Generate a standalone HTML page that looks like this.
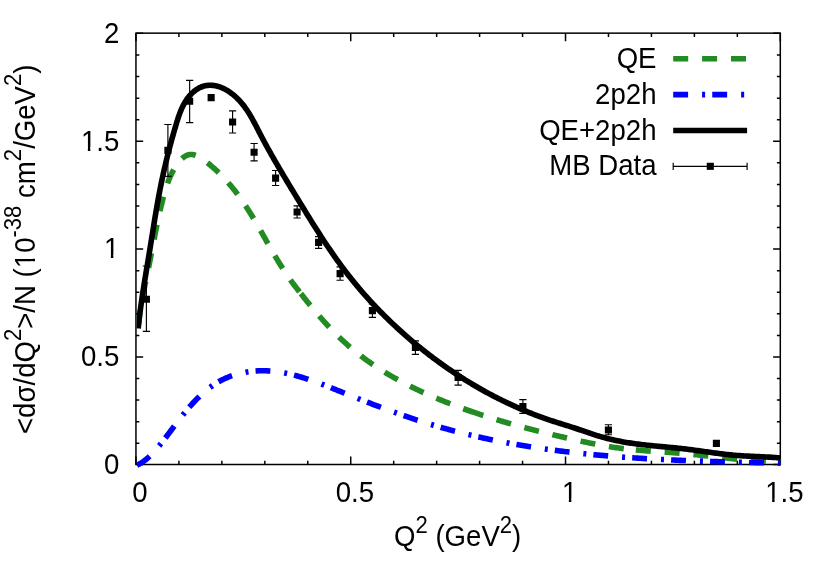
<!DOCTYPE html>
<html><head><meta charset="utf-8"><title>dsigma/dQ2</title>
<style>html,body{margin:0;padding:0;background:#fff;}svg{display:block;will-change:transform;}</style>
</head><body>
<svg width="830" height="581" viewBox="0 0 830 581" font-family="'Liberation Sans', sans-serif" font-size="27.6px" fill="#000">
<rect width="830" height="581" fill="#fff"/>
<path d="M135.95,464.50v-8.0M135.95,33.15v8.0M178.91,464.50v-3.8M178.91,33.15v3.8M221.86,464.50v-3.8M221.86,33.15v3.8M264.82,464.50v-3.8M264.82,33.15v3.8M307.78,464.50v-3.8M307.78,33.15v3.8M350.73,464.50v-8.0M350.73,33.15v8.0M393.69,464.50v-3.8M393.69,33.15v3.8M436.65,464.50v-3.8M436.65,33.15v3.8M479.60,464.50v-3.8M479.60,33.15v3.8M522.56,464.50v-3.8M522.56,33.15v3.8M565.52,464.50v-8.0M565.52,33.15v8.0M608.47,464.50v-3.8M608.47,33.15v3.8M651.43,464.50v-3.8M651.43,33.15v3.8M694.39,464.50v-3.8M694.39,33.15v3.8M737.34,464.50v-3.8M737.34,33.15v3.8M780.30,464.50v-8.0M780.30,33.15v8.0M135.95,464.50h7.2M780.30,464.50h-7.2M135.95,443.23h3.4M780.30,443.23h-3.4M135.95,421.67h3.4M780.30,421.67h-3.4M135.95,400.10h3.4M780.30,400.10h-3.4M135.95,378.53h3.4M780.30,378.53h-3.4M135.95,356.96h7.2M780.30,356.96h-7.2M135.95,335.40h3.4M780.30,335.40h-3.4M135.95,313.83h3.4M780.30,313.83h-3.4M135.95,292.26h3.4M780.30,292.26h-3.4M135.95,270.69h3.4M780.30,270.69h-3.4M135.95,249.12h7.2M780.30,249.12h-7.2M135.95,227.56h3.4M780.30,227.56h-3.4M135.95,205.99h3.4M780.30,205.99h-3.4M135.95,184.42h3.4M780.30,184.42h-3.4M135.95,162.86h3.4M780.30,162.86h-3.4M135.95,141.29h7.2M780.30,141.29h-7.2M135.95,119.72h3.4M780.30,119.72h-3.4M135.95,98.15h3.4M780.30,98.15h-3.4M135.95,76.58h3.4M780.30,76.58h-3.4M135.95,55.02h3.4M780.30,55.02h-3.4M135.95,33.15h7.2M780.30,33.15h-7.2" stroke="#000" stroke-width="1.5" fill="none"/>
<rect x="135.95" y="33.15" width="644.35" height="431.35" fill="none" stroke="#000" stroke-width="1.5"/>
<g transform="translate(119.30,474.15) scale(1,1.055)"><text text-anchor="end">0</text></g>
<g transform="translate(119.30,366.31) scale(1,1.055)"><text text-anchor="end">0.5</text></g>
<g transform="translate(119.30,258.47) scale(1,1.055)"><text text-anchor="end">1</text><rect x="-14.06" y="-3.5" width="5.62" height="4.3" fill="#fff"/><rect x="-5.96" y="-3.5" width="5.40" height="4.3" fill="#fff"/></g>
<g transform="translate(119.30,150.64) scale(1,1.055)"><text text-anchor="end">1.5</text><rect x="-37.08" y="-3.5" width="5.62" height="4.3" fill="#fff"/><rect x="-28.98" y="-3.5" width="5.40" height="4.3" fill="#fff"/></g>
<g transform="translate(119.30,42.80) scale(1,1.055)"><text text-anchor="end">2</text></g>
<g transform="translate(140.05,502.40) scale(1,1.055)"><text text-anchor="middle">0</text></g>
<g transform="translate(354.83,502.40) scale(1,1.055)"><text text-anchor="middle">0.5</text></g>
<g transform="translate(569.62,502.40) scale(1,1.055)"><text text-anchor="middle">1</text><rect x="-6.38" y="-3.5" width="5.62" height="4.3" fill="#fff"/><rect x="1.72" y="-3.5" width="5.40" height="4.3" fill="#fff"/></g>
<g transform="translate(784.40,502.40) scale(1,1.055)"><text text-anchor="middle">1.5</text><rect x="-17.89" y="-3.5" width="5.62" height="4.3" fill="#fff"/><rect x="-9.79" y="-3.5" width="5.40" height="4.3" fill="#fff"/></g>
<g transform="translate(394.00,545.50) scale(1,1.055)"><text text-anchor="start">Q<tspan dy="-12.23" font-size="22.08px">2</tspan><tspan dy="12.23"> (GeV</tspan><tspan dy="-12.23" font-size="22.08px">2</tspan><tspan dy="12.23">)</tspan></text></g>
<g transform="translate(34.50,434.00) rotate(-90) scale(1,1.055)"><text text-anchor="start">&lt;dσ/dQ<tspan dy="-13.27" font-size="22.08px">2</tspan><tspan dy="13.27">&gt;/N (10</tspan><tspan dy="-13.27" font-size="22.08px">-38</tspan><tspan dy="13.27"> cm</tspan><tspan dy="-13.27" font-size="22.08px">2</tspan><tspan dy="13.27">/GeV</tspan><tspan dy="-13.27" font-size="22.08px">2</tspan><tspan dy="13.27">)</tspan></text><rect x="167.13" y="-3.5" width="5.62" height="4.3" fill="#fff"/><rect x="175.23" y="-3.5" width="5.40" height="4.3" fill="#fff"/></g>
<clipPath id="c"><rect x="136.70" y="33.15" width="644.35" height="436.35"/></clipPath>
<g clip-path="url(#c)" fill="none" stroke-linejoin="round">
<path d="M138.56,324.79 L138.61,324.12 L138.75,322.63 L138.89,321.14 L139.05,319.65 L139.21,318.17 L139.39,316.68 L139.58,315.20 L139.78,313.71 L139.99,312.22 L140.20,310.74 L140.33,309.90 M142.71,296.21 L142.77,295.91 L143.06,294.43 L143.35,292.95 L143.65,291.47 L143.94,289.99 L144.25,288.51 L144.55,287.03 L144.86,285.55 L145.16,284.07 L145.47,282.60 L145.70,281.51 M148.53,267.90 L148.54,267.83 L148.84,266.36 L149.13,264.88 L149.42,263.41 L149.71,261.94 L150.00,260.46 L150.29,258.99 L150.58,257.52 L150.86,256.04 L151.14,254.57 L151.41,253.18 M154.03,239.53 L154.25,238.40 L154.53,236.93 L154.82,235.47 L155.11,234.00 L155.39,232.53 L155.69,231.06 L155.98,229.60 L156.28,228.13 L156.57,226.66 L156.87,225.20 L156.95,224.81 M159.90,211.23 L160.06,210.55 L160.40,209.09 L160.74,207.63 L161.09,206.17 L161.45,204.71 L161.81,203.24 L162.17,201.78 L162.55,200.32 L162.92,198.86 L163.30,197.40 L163.50,196.67 M167.53,183.37 L167.71,182.86 L168.24,181.42 L168.79,179.99 L169.37,178.56 L169.98,177.13 L170.61,175.71 L171.28,174.29 L171.97,172.88 L172.70,171.48 L173.46,170.08 L173.67,169.71 M181.98,158.63 L182.88,157.84 L183.98,156.99 L185.10,156.25 L186.25,155.63 L187.41,155.13 L188.60,154.76 L189.80,154.54 L191.02,154.46 L192.25,154.53 L193.50,154.73 L194.75,155.04 L195.72,155.37 M207.45,162.72 L207.45,162.72 L208.69,163.73 L209.92,164.74 L211.13,165.77 L212.32,166.80 L213.51,167.85 L214.68,168.90 L215.84,169.96 L216.99,171.03 L218.12,172.11 L218.68,172.65 M228.25,182.73 L228.76,183.31 L229.75,184.47 L230.74,185.63 L231.71,186.80 L232.67,187.97 L233.62,189.15 L234.56,190.34 L235.48,191.53 L236.40,192.73 L237.31,193.93 L237.66,194.40 M245.61,205.80 L245.88,206.20 L246.69,207.45 L247.50,208.70 L248.30,209.95 L249.09,211.21 L249.88,212.48 L250.67,213.74 L251.44,215.01 L252.22,216.28 L252.99,217.55 L253.56,218.52 M260.55,230.53 L261.20,231.69 L261.94,232.98 L262.67,234.28 L263.40,235.57 L264.13,236.87 L264.87,238.17 L265.60,239.46 L266.33,240.76 L267.06,242.06 L267.79,243.35 L267.93,243.59 M274.86,255.64 L275.24,256.29 L276.00,257.57 L276.77,258.86 L277.54,260.14 L278.32,261.42 L279.10,262.70 L279.89,263.98 L280.68,265.25 L281.48,266.53 L282.29,267.80 L282.69,268.43 M290.49,279.94 L290.75,280.32 L291.65,281.55 L292.55,282.78 L293.46,284.00 L294.38,285.22 L295.30,286.44 L296.23,287.65 L297.16,288.86 L298.09,290.06 L299.03,291.26 L299.53,291.90 M300.90,293.64 L300.91,293.65 L301.84,294.84 L302.78,296.03 L303.72,297.21 L304.66,298.39 L305.60,299.56 L306.53,300.73 L307.47,301.90 L308.41,303.07 L309.35,304.23 L310.27,305.36 M319.20,316.01 L319.87,316.78 L320.85,317.90 L321.84,319.02 L322.83,320.14 L323.82,321.25 L324.82,322.36 L325.83,323.46 L326.84,324.56 L327.86,325.66 L328.88,326.75 L329.25,327.15 M339.01,337.04 L339.40,337.41 L340.48,338.45 L341.57,339.48 L342.67,340.50 L343.77,341.52 L344.87,342.53 L345.99,343.54 L347.10,344.54 L348.23,345.53 L349.36,346.51 L350.09,347.14 M360.90,355.89 L360.97,355.95 L362.17,356.85 L363.37,357.75 L364.57,358.64 L365.78,359.53 L366.99,360.40 L368.21,361.28 L369.43,362.14 L370.66,363.00 L371.89,363.85 L373.07,364.65 M384.76,372.17 L385.76,372.79 L387.05,373.56 L388.34,374.33 L389.63,375.09 L390.93,375.85 L392.23,376.60 L393.54,377.35 L394.85,378.09 L396.16,378.82 L397.48,379.55 L397.73,379.69 M410.04,386.14 L410.83,386.54 L412.18,387.21 L413.53,387.87 L414.89,388.53 L416.25,389.18 L417.61,389.83 L418.98,390.48 L420.34,391.12 L421.71,391.75 L423.08,392.38 L423.58,392.61 M436.32,398.17 L436.91,398.42 L438.30,399.00 L439.70,399.58 L441.09,400.15 L442.49,400.71 L443.89,401.28 L445.28,401.84 L446.68,402.39 L448.09,402.94 L449.49,403.49 L450.23,403.78 M463.25,408.64 L463.56,408.75 L464.98,409.26 L466.39,409.76 L467.80,410.26 L469.22,410.75 L470.63,411.25 L472.05,411.73 L473.47,412.22 L474.89,412.70 L476.31,413.18 L477.73,413.66 L479.15,414.13 L480.57,414.60 L481.99,415.06 L483.32,415.49 M496.58,419.65 L497.70,419.99 L499.13,420.42 L500.56,420.85 L502.00,421.27 L503.43,421.69 L504.87,422.11 L506.31,422.53 L507.74,422.95 L509.18,423.36 L510.62,423.77 L510.98,423.87 M524.38,427.55 L525.05,427.73 L526.50,428.11 L527.95,428.49 L529.39,428.87 L530.84,429.25 L532.29,429.63 L533.74,430.00 L535.20,430.37 L536.65,430.74 L538.10,431.11 L538.90,431.31 M552.40,434.62 L552.67,434.69 L554.13,435.03 L555.59,435.38 L557.05,435.73 L558.51,436.07 L559.98,436.41 L561.44,436.76 L562.91,437.10 L564.37,437.43 L565.84,437.77 L567.00,438.04 M580.57,441.07 L582.00,441.38 L583.47,441.69 L584.95,442.00 L586.42,442.31 L587.90,442.62 L589.37,442.92 L590.85,443.22 L592.32,443.51 L593.80,443.80 L595.26,444.09 M608.95,446.53 L610.08,446.72 L611.56,446.95 L613.04,447.18 L614.53,447.41 L616.01,447.63 L617.49,447.84 L618.98,448.04 L620.46,448.24 L621.95,448.44 L623.43,448.62 L623.79,448.67 M635.80,449.94 L636.83,450.03 L638.31,450.16 L639.80,450.29 L641.29,450.41 L642.79,450.53 L644.28,450.65 L645.77,450.76 L647.26,450.87 L648.75,450.98 L650.24,451.09 L650.75,451.12 M664.62,452.07 L665.18,452.10 L666.67,452.21 L668.17,452.31 L669.66,452.42 L671.16,452.52 L672.65,452.63 L674.15,452.75 L675.64,452.86 L677.14,452.98 L678.64,453.10 L679.58,453.18 M693.42,454.47 L693.61,454.49 L695.10,454.65 L696.60,454.80 L698.10,454.96 L699.60,455.12 L701.10,455.28 L702.59,455.45 L704.09,455.61 L705.59,455.77 L707.09,455.94 L708.33,456.08 M722.15,457.61 L723.57,457.76 L725.07,457.93 L726.56,458.09 L728.06,458.24 L729.56,458.40 L731.06,458.56 L732.56,458.71 L734.05,458.86 L735.55,459.01 L737.05,459.15 L737.07,459.15 M750.92,460.33 L752.02,460.41 L753.52,460.51 L755.01,460.61 L756.51,460.70 L758.01,460.79 L759.50,460.88 L761.00,460.95 L762.49,461.02 L763.99,461.09 L765.48,461.15 L765.89,461.17 M779.79,461.38 L780.42,461.38" stroke="#228b22" stroke-width="5.6"/>
<path d="M136.95,465.15 L137.57,464.87 L138.84,464.23 L140.10,463.54 L141.32,462.80 L142.53,462.01 L143.72,461.19 L144.88,460.33 L146.03,459.43 L147.15,458.50 L148.26,457.53 L149.35,456.53 L149.68,456.22 M159.09,445.89 L159.46,445.44 L160.41,444.27 L160.97,443.56 M165.37,437.94 L165.95,437.18 L166.86,435.99 L167.76,434.80 L168.66,433.60 L169.56,432.41 L170.45,431.21 L171.35,430.01 L172.25,428.82 L173.14,427.62 L174.04,426.42 L174.30,426.07 M182.81,414.99 L183.24,414.45 L184.20,413.26 L184.69,412.66 M189.27,407.20 L190.14,406.20 L191.17,405.05 L192.20,403.90 L193.24,402.76 L194.30,401.63 L195.37,400.51 L196.44,399.41 L197.53,398.31 L198.63,397.23 L199.47,396.41 M210.09,387.36 L210.23,387.26 L211.45,386.37 L212.52,385.62 M218.53,381.81 L219.08,381.50 L220.39,380.77 L221.72,380.08 L223.06,379.41 L224.41,378.76 L225.78,378.15 L227.15,377.56 L228.53,376.99 L229.93,376.45 L231.33,375.93 L232.03,375.69 M245.52,372.19 L245.71,372.15 L247.17,371.91 L248.47,371.71 M255.55,370.96 L255.96,370.93 L257.43,370.85 L258.89,370.79 L260.35,370.75 L261.82,370.73 L263.28,370.74 L264.73,370.76 L266.19,370.81 L267.65,370.87 L269.11,370.96 L270.37,371.05 M284.19,372.92 L285.05,373.08 L286.49,373.37 L287.12,373.51 M294.06,375.13 L295.14,375.41 L296.58,375.79 L298.01,376.19 L299.45,376.60 L300.89,377.02 L302.32,377.45 L303.76,377.89 L305.19,378.34 L306.62,378.80 L308.06,379.26 L308.30,379.35 M321.45,384.03 L322.35,384.37 L323.77,384.92 L324.24,385.10 M330.88,387.69 L330.90,387.70 L332.32,388.27 L333.75,388.83 L335.17,389.40 L336.59,389.98 L338.02,390.55 L339.44,391.12 L340.86,391.69 L342.28,392.27 L343.70,392.84 L344.66,393.23 M357.63,398.39 L357.91,398.51 L359.33,399.06 L360.41,399.49 M367.05,402.08 L367.85,402.39 L369.27,402.94 L370.69,403.48 L372.11,404.03 L373.53,404.57 L374.95,405.11 L376.37,405.65 L377.79,406.19 L379.21,406.72 L380.63,407.25 L380.93,407.37 M394.04,412.17 L394.86,412.46 L396.28,412.97 L396.85,413.17 M403.58,415.53 L404.84,415.97 L406.27,416.46 L407.69,416.94 L409.12,417.43 L410.55,417.91 L411.98,418.39 L413.41,418.86 L414.84,419.34 L416.27,419.81 L417.66,420.26 M430.97,424.44 L432.06,424.76 L433.50,425.20 L433.84,425.30 M440.68,427.29 L440.71,427.30 L442.15,427.71 L443.60,428.12 L445.04,428.52 L446.49,428.92 L447.94,429.32 L449.38,429.71 L450.83,430.10 L452.28,430.49 L453.73,430.87 L455.00,431.20 M468.50,434.59 L469.73,434.88 L471.19,435.23 L471.41,435.28 M478.33,436.88 L478.50,436.91 L479.96,437.24 L481.42,437.57 L482.88,437.89 L484.35,438.21 L485.81,438.52 L487.28,438.84 L488.75,439.15 L490.21,439.45 L491.68,439.76 L492.82,439.99 M506.49,442.67 L507.86,442.92 L509.34,443.19 L509.42,443.21 M516.42,444.46 L516.72,444.51 L518.19,444.77 L519.67,445.02 L521.15,445.27 L522.63,445.52 L524.11,445.76 L525.59,446.00 L527.07,446.24 L528.55,446.48 L530.03,446.72 L531.04,446.88 M544.81,448.93 L544.88,448.94 L546.36,449.15 L547.76,449.34 M554.81,450.29 L555.29,450.35 L556.78,450.55 L558.27,450.74 L559.76,450.93 L561.25,451.11 L562.74,451.30 L564.23,451.48 L565.72,451.66 L567.22,451.84 L568.71,452.02 L569.52,452.11 M583.35,453.64 L583.65,453.67 L585.15,453.82 L586.32,453.94 M593.40,454.64 L594.13,454.71 L595.63,454.85 L597.12,454.99 L598.62,455.12 L600.12,455.26 L601.62,455.39 L603.12,455.53 L604.62,455.66 L606.12,455.79 L607.62,455.91 L608.15,455.96 M622.08,457.06 L622.63,457.10 L624.13,457.21 L625.07,457.27 M632.19,457.77 L633.15,457.83 L634.65,457.93 L636.15,458.03 L637.66,458.13 L639.16,458.22 L640.66,458.32 L642.17,458.41 L643.67,458.50 L645.18,458.59 L646.68,458.68 L647.03,458.70 M660.99,459.46 L661.73,459.49 L663.23,459.57 L663.98,459.61 M671.11,459.94 L672.26,460.00 L673.77,460.07 L675.27,460.13 L676.78,460.20 L678.28,460.26 L679.79,460.33 L681.29,460.39 L682.80,460.45 L684.31,460.51 L685.81,460.57 L685.97,460.58 M699.93,461.09 L700.86,461.12 L702.37,461.17 L702.93,461.19 M710.06,461.42 L711.39,461.46 L712.90,461.51 L714.40,461.55 L715.90,461.60 L717.41,461.64 L718.91,461.69 L720.41,461.73 L721.92,461.77 L723.42,461.81 L724.92,461.86 L724.93,461.86 M738.90,462.22 L739.94,462.24 L741.44,462.28 L741.89,462.29 M749.03,462.46 L750.45,462.49 L751.95,462.53 L753.45,462.56 L754.94,462.60 L756.44,462.63 L757.94,462.67 L759.44,462.70 L760.94,462.73 L762.44,462.77 L763.90,462.80 M777.87,463.10 L778.89,463.13 L780.39,463.16" stroke="#0000ff" stroke-width="5.6"/>
<path d="M138.15,328.55 L138.30,327.07 L138.46,325.59 L138.62,324.11 L138.78,322.63 L138.95,321.14 L139.12,319.66 L139.30,318.18 L139.48,316.69 L139.66,315.21 L139.85,313.72 L140.04,312.24 L140.23,310.75 L140.43,309.27 L140.63,307.78 L140.83,306.30 L141.04,304.81 L141.25,303.32 L141.46,301.84 L141.68,300.35 L141.90,298.86 L142.12,297.37 L142.34,295.89 L142.56,294.40 L142.79,292.91 L143.02,291.42 L143.25,289.93 L143.48,288.44 L143.72,286.96 L143.95,285.47 L144.19,283.98 L144.43,282.49 L144.67,281.00 L144.91,279.51 L145.15,278.02 L145.40,276.53 L145.64,275.04 L145.89,273.55 L146.13,272.06 L146.38,270.57 L146.63,269.08 L146.87,267.59 L147.12,266.10 L147.37,264.61 L147.62,263.12 L147.86,261.63 L148.11,260.14 L148.36,258.65 L148.60,257.16 L148.85,255.68 L149.10,254.19 L149.34,252.70 L149.58,251.21 L149.83,249.72 L150.07,248.23 L150.31,246.74 L150.55,245.26 L150.79,243.77 L151.03,242.28 L151.27,240.79 L151.51,239.31 L151.75,237.82 L151.98,236.34 L152.22,234.85 L152.46,233.36 L152.70,231.88 L152.94,230.39 L153.18,228.91 L153.41,227.42 L153.65,225.94 L153.89,224.46 L154.14,222.97 L154.38,221.49 L154.62,220.01 L154.86,218.53 L155.11,217.05 L155.36,215.56 L155.60,214.08 L155.85,212.60 L156.10,211.13 L156.35,209.65 L156.61,208.17 L156.86,206.69 L157.12,205.21 L157.38,203.74 L157.64,202.26 L157.91,200.78 L158.17,199.31 L158.44,197.84 L158.71,196.36 L158.99,194.89 L159.27,193.42 L159.55,191.95 L159.83,190.47 L160.11,189.00 L160.40,187.53 L160.70,186.07 L160.99,184.60 L161.29,183.13 L161.59,181.66 L161.90,180.20 L162.21,178.73 L162.52,177.27 L162.84,175.80 L163.16,174.34 L163.48,172.88 L163.81,171.42 L164.14,169.95 L164.47,168.49 L164.81,167.03 L165.15,165.57 L165.49,164.11 L165.84,162.65 L166.19,161.19 L166.54,159.73 L166.90,158.27 L167.26,156.81 L167.62,155.36 L167.99,153.90 L168.36,152.44 L168.74,150.98 L169.11,149.52 L169.49,148.06 L169.88,146.61 L170.27,145.15 L170.66,143.69 L171.05,142.23 L171.45,140.78 L171.85,139.32 L172.26,137.86 L172.66,136.40 L173.07,134.94 L173.49,133.48 L173.91,132.02 L174.33,130.56 L174.75,129.11 L175.18,127.65 L175.61,126.19 L176.05,124.72 L176.49,123.26 L176.93,121.80 L177.38,120.35 L177.85,118.89 L178.32,117.45 L178.81,116.00 L179.32,114.57 L179.84,113.15 L180.38,111.73 L180.95,110.33 L181.54,108.94 L182.16,107.57 L182.81,106.22 L183.49,104.88 L184.21,103.56 L184.96,102.26 L185.75,100.98 L186.57,99.72 L187.44,98.49 L188.36,97.29 L189.32,96.11 L190.33,94.96 L191.38,93.85 L192.48,92.78 L193.62,91.75 L194.80,90.78 L196.01,89.87 L197.26,89.04 L198.53,88.27 L199.84,87.59 L201.16,87.00 L202.51,86.50 L203.88,86.08 L205.26,85.75 L206.66,85.51 L208.07,85.36 L209.50,85.28 L210.93,85.28 L212.36,85.37 L213.80,85.52 L215.25,85.76 L216.69,86.06 L218.12,86.44 L219.56,86.89 L220.98,87.41 L222.40,87.99 L223.80,88.63 L225.19,89.34 L226.56,90.11 L227.91,90.93 L229.25,91.80 L230.55,92.71 L231.84,93.67 L233.09,94.66 L234.32,95.68 L235.51,96.74 L236.67,97.81 L237.79,98.91 L238.88,100.02 L239.94,101.15 L240.96,102.30 L241.95,103.46 L242.91,104.64 L243.85,105.84 L244.76,107.04 L245.64,108.27 L246.50,109.50 L247.34,110.75 L248.16,112.00 L248.95,113.27 L249.74,114.55 L250.50,115.83 L251.25,117.12 L251.99,118.42 L252.71,119.73 L253.43,121.04 L254.13,122.36 L254.83,123.68 L255.53,125.01 L256.21,126.33 L256.90,127.66 L257.58,128.99 L258.26,130.32 L258.95,131.65 L259.63,132.98 L260.32,134.31 L261.02,135.63 L261.71,136.96 L262.41,138.28 L263.12,139.60 L263.82,140.92 L264.53,142.23 L265.25,143.55 L265.96,144.86 L266.68,146.18 L267.40,147.49 L268.13,148.80 L268.86,150.11 L269.59,151.42 L270.32,152.73 L271.05,154.03 L271.79,155.34 L272.53,156.64 L273.27,157.94 L274.02,159.24 L274.77,160.54 L275.52,161.84 L276.27,163.14 L277.02,164.44 L277.78,165.74 L278.53,167.03 L279.29,168.33 L280.05,169.62 L280.82,170.92 L281.58,172.21 L282.35,173.50 L283.11,174.80 L283.88,176.09 L284.65,177.38 L285.42,178.67 L286.20,179.96 L286.97,181.25 L287.75,182.54 L288.52,183.83 L289.30,185.12 L290.08,186.41 L290.86,187.69 L291.63,188.98 L292.42,190.27 L293.20,191.56 L293.98,192.85 L294.76,194.13 L295.54,195.42 L296.32,196.71 L297.11,198.00 L297.89,199.28 L298.68,200.57 L299.46,201.86 L300.24,203.15 L301.03,204.44 L301.82,205.72 L302.60,207.01 L303.39,208.30 L304.18,209.58 L304.97,210.87 L305.76,212.15 L306.55,213.44 L307.34,214.72 L308.14,216.01 L308.93,217.29 L309.73,218.57 L310.52,219.85 L311.32,221.13 L312.12,222.41 L312.92,223.69 L313.73,224.97 L314.53,226.24 L315.34,227.52 L316.15,228.79 L316.96,230.06 L317.77,231.33 L318.58,232.60 L319.40,233.87 L320.22,235.13 L321.04,236.40 L321.86,237.66 L322.68,238.92 L323.51,240.18 L324.34,241.44 L325.17,242.69 L326.01,243.95 L326.84,245.20 L327.68,246.45 L328.53,247.70 L329.37,248.94 L330.22,250.18 L331.07,251.42 L331.92,252.66 L332.78,253.90 L333.64,255.13 L334.50,256.36 L335.37,257.59 L336.24,258.81 L337.11,260.04 L337.99,261.26 L338.87,262.47 L339.75,263.69 L340.64,264.90 L341.53,266.11 L342.42,267.31 L343.32,268.52 L344.22,269.71 L345.13,270.91 L346.04,272.10 L346.95,273.29 L347.87,274.48 L348.79,275.66 L349.72,276.84 L350.65,278.01 L351.58,279.19 L352.52,280.35 L353.47,281.52 L354.41,282.68 L355.36,283.84 L356.32,284.99 L357.28,286.15 L358.24,287.29 L359.21,288.44 L360.18,289.58 L361.15,290.72 L362.13,291.85 L363.11,292.98 L364.10,294.11 L365.09,295.23 L366.09,296.35 L367.08,297.47 L368.09,298.58 L369.09,299.69 L370.10,300.80 L371.12,301.90 L372.13,303.00 L373.16,304.10 L374.18,305.19 L375.21,306.28 L376.24,307.36 L377.28,308.45 L378.32,309.52 L379.36,310.60 L380.41,311.67 L381.46,312.74 L382.52,313.81 L383.58,314.87 L384.64,315.93 L385.71,316.98 L386.78,318.03 L387.85,319.08 L388.93,320.12 L390.01,321.17 L391.09,322.20 L392.18,323.24 L393.27,324.27 L394.36,325.30 L395.46,326.32 L396.56,327.34 L397.67,328.36 L398.78,329.37 L399.89,330.38 L401.00,331.39 L402.12,332.39 L403.24,333.39 L404.37,334.39 L405.50,335.38 L406.63,336.37 L407.77,337.36 L408.91,338.34 L410.05,339.32 L411.19,340.30 L412.34,341.27 L413.49,342.24 L414.65,343.20 L415.81,344.16 L416.97,345.12 L418.14,346.07 L419.30,347.02 L420.48,347.97 L421.65,348.92 L422.83,349.86 L424.01,350.79 L425.19,351.72 L426.38,352.65 L427.57,353.58 L428.76,354.50 L429.96,355.42 L431.16,356.33 L432.36,357.24 L433.57,358.15 L434.78,359.05 L435.99,359.95 L437.20,360.85 L438.42,361.74 L439.64,362.63 L440.86,363.51 L442.09,364.39 L443.32,365.27 L444.55,366.14 L445.79,367.01 L447.03,367.87 L448.27,368.73 L449.51,369.59 L450.76,370.44 L452.00,371.28 L453.26,372.13 L454.51,372.97 L455.77,373.80 L457.03,374.63 L458.29,375.46 L459.56,376.28 L460.83,377.09 L462.10,377.90 L463.37,378.71 L464.65,379.51 L465.92,380.31 L467.21,381.11 L468.49,381.90 L469.78,382.68 L471.07,383.46 L472.36,384.23 L473.65,385.00 L474.95,385.77 L476.25,386.53 L477.55,387.29 L478.85,388.04 L480.16,388.78 L481.47,389.52 L482.78,390.26 L484.09,390.99 L485.41,391.71 L486.73,392.43 L488.05,393.15 L489.37,393.86 L490.70,394.56 L492.02,395.26 L493.35,395.96 L494.69,396.65 L496.02,397.33 L497.36,398.01 L498.70,398.69 L500.04,399.36 L501.38,400.02 L502.73,400.68 L504.07,401.34 L505.42,401.99 L506.78,402.63 L508.13,403.28 L509.49,403.91 L510.85,404.55 L512.21,405.17 L513.57,405.80 L514.93,406.42 L516.30,407.03 L517.67,407.64 L519.04,408.24 L520.41,408.84 L521.78,409.43 L523.16,410.02 L524.54,410.61 L525.92,411.18 L527.30,411.76 L528.68,412.32 L530.07,412.88 L531.46,413.44 L532.85,413.99 L534.24,414.53 L535.63,415.07 L537.03,415.60 L538.42,416.13 L539.82,416.65 L541.22,417.16 L542.62,417.67 L544.02,418.17 L545.43,418.66 L546.84,419.15 L548.24,419.63 L549.65,420.10 L551.07,420.57 L552.48,421.03 L553.89,421.49 L555.31,421.94 L556.73,422.39 L558.15,422.83 L559.57,423.28 L560.99,423.72 L562.42,424.16 L563.84,424.60 L565.27,425.05 L566.70,425.49 L568.13,425.94 L569.56,426.39 L570.99,426.85 L572.42,427.31 L573.86,427.78 L575.30,428.26 L576.73,428.74 L578.17,429.23 L579.61,429.73 L581.06,430.22 L582.50,430.72 L583.95,431.22 L585.39,431.72 L586.84,432.22 L588.29,432.72 L589.74,433.21 L591.19,433.69 L592.64,434.17 L594.09,434.64 L595.55,435.10 L597.00,435.55 L598.46,435.99 L599.92,436.42 L601.38,436.84 L602.84,437.25 L604.30,437.65 L605.76,438.04 L607.22,438.42 L608.69,438.78 L610.15,439.14 L611.62,439.49 L613.09,439.83 L614.56,440.16 L616.02,440.48 L617.49,440.78 L618.97,441.08 L620.44,441.37 L621.91,441.65 L623.38,441.91 L624.86,442.17 L626.33,442.42 L627.81,442.66 L629.29,442.89 L630.77,443.12 L632.25,443.33 L633.72,443.54 L635.21,443.75 L636.69,443.94 L638.17,444.13 L639.65,444.32 L641.13,444.50 L642.62,444.67 L644.10,444.84 L645.59,445.00 L647.07,445.16 L648.56,445.32 L650.05,445.47 L651.54,445.62 L653.02,445.77 L654.51,445.92 L656.00,446.06 L657.49,446.20 L658.98,446.34 L660.48,446.48 L661.97,446.62 L663.46,446.76 L664.95,446.90 L666.45,447.04 L667.94,447.18 L669.43,447.32 L670.93,447.46 L672.42,447.61 L673.92,447.75 L675.41,447.90 L676.91,448.06 L678.41,448.21 L679.90,448.37 L681.40,448.53 L682.90,448.70 L684.39,448.88 L685.89,449.05 L687.39,449.24 L688.89,449.42 L690.39,449.62 L691.89,449.81 L693.39,450.01 L694.89,450.21 L696.38,450.42 L697.88,450.62 L699.38,450.83 L700.88,451.04 L702.38,451.25 L703.88,451.46 L705.38,451.67 L706.88,451.88 L708.38,452.09 L709.88,452.30 L711.38,452.51 L712.89,452.71 L714.39,452.92 L715.89,453.12 L717.39,453.32 L718.89,453.51 L720.39,453.70 L721.89,453.89 L723.39,454.07 L724.89,454.24 L726.39,454.41 L727.89,454.58 L729.39,454.74 L730.88,454.89 L732.38,455.03 L733.88,455.17 L735.38,455.30 L736.88,455.42 L738.38,455.54 L739.88,455.64 L741.37,455.74 L742.87,455.84 L744.37,455.93 L745.87,456.01 L747.36,456.09 L748.86,456.17 L750.35,456.24 L751.85,456.31 L753.34,456.38 L754.84,456.45 L756.33,456.51 L757.83,456.58 L759.32,456.65 L760.81,456.71 L762.31,456.78 L763.80,456.86 L765.29,456.93 L766.78,457.01 L768.27,457.09 L769.76,457.17 L771.25,457.26 L772.74,457.36 L774.23,457.46 L775.72,457.57 L777.20,457.68 L778.69,457.80 L780.17,457.93" stroke="#000" stroke-width="5.6"/>
</g>
<path d="M146.40,266.00V331.30M142.80,266.00h7.2M142.80,331.30h7.2M167.90,124.50V176.30M164.30,124.50h7.2M164.30,176.30h7.2M189.65,80.30V122.60M186.05,80.30h7.2M186.05,122.60h7.2M232.60,110.80V133.00M229.00,110.80h7.2M229.00,133.00h7.2M254.10,143.50V160.80M250.50,143.50h7.2M250.50,160.80h7.2M275.60,170.50V185.50M272.00,170.50h7.2M272.00,185.50h7.2M297.10,205.80V218.00M293.50,205.80h7.2M293.50,218.00h7.2M318.60,236.60V248.30M315.00,236.60h7.2M315.00,248.30h7.2M340.10,266.80V280.20M336.50,266.80h7.2M336.50,280.20h7.2M372.40,304.00V317.40M368.80,304.00h7.2M368.80,317.40h7.2M415.40,340.80V354.40M411.80,340.80h7.2M411.80,354.40h7.2M458.10,370.30V385.10M454.50,370.30h7.2M454.50,385.10h7.2M522.90,399.60V413.30M519.30,399.60h7.2M519.30,413.30h7.2M608.40,424.70V434.75M604.80,424.70h7.2M604.80,434.75h7.2" stroke="#000" stroke-width="1.15" fill="none"/>
<path d="M142.85,295.65h7.1v7.1h-7.1zM164.35,146.85h7.1v7.1h-7.1zM186.10,97.65h7.1v7.1h-7.1zM207.60,94.05h7.1v7.1h-7.1zM229.05,118.45h7.1v7.1h-7.1zM250.55,148.75h7.1v7.1h-7.1zM272.05,174.55h7.1v7.1h-7.1zM293.55,208.45h7.1v7.1h-7.1zM315.05,238.85h7.1v7.1h-7.1zM336.55,270.05h7.1v7.1h-7.1zM368.85,307.05h7.1v7.1h-7.1zM411.85,343.85h7.1v7.1h-7.1zM454.55,373.95h7.1v7.1h-7.1zM519.35,403.05h7.1v7.1h-7.1zM604.85,426.45h7.1v7.1h-7.1zM712.85,439.85h7.1v7.1h-7.1z" fill="#000"/>
<g transform="translate(656.50,67.90) scale(1,1.055)"><text text-anchor="end">QE</text></g>
<g transform="translate(656.50,103.80) scale(1,1.055)"><text text-anchor="end">2p2h</text></g>
<g transform="translate(656.50,139.60) scale(1,1.055)"><text text-anchor="end">QE+2p2h</text></g>
<g transform="translate(656.50,175.40) scale(1,1.055)"><text text-anchor="end">MB Data</text></g>
<path d="M673.2,58.7H747.1" stroke="#228b22" stroke-width="5.6" stroke-dasharray="15 13.9" fill="none"/>
<path d="M673.2,94.6H747.1" stroke="#0000ff" stroke-width="5.6" stroke-dasharray="14.9 14 3 7.15" fill="none"/>
<path d="M673.2,130.5H747.1" stroke="#000" stroke-width="5.6" fill="none"/>
<path d="M673.2,166.3H747.1M673.2,162.70000000000002v7.2M747.1,162.70000000000002v7.2" stroke="#000" stroke-width="1.15" fill="none"/>
<rect x="706.75" y="162.75" width="7.1" height="7.1"/>
</svg>
</body></html>
